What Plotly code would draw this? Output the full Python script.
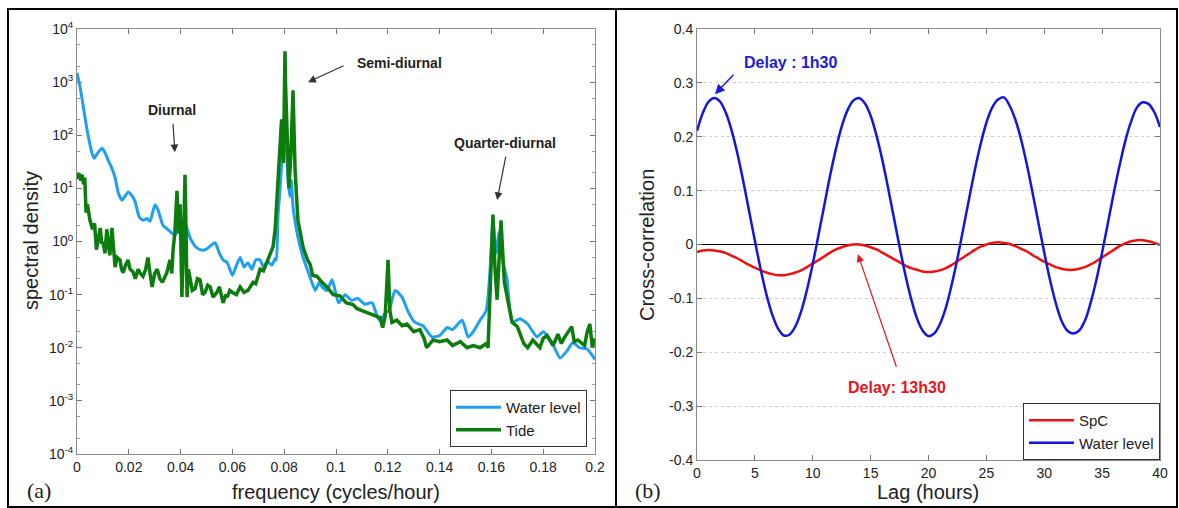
import plotly.graph_objects as go

# ---- (a) spectral density ----
wl_freq = [0.000, 0.0012, 0.0039, 0.0058, 0.0066, 0.0082, 0.0097, 0.011, 0.012, 0.013,
           0.0147, 0.016, 0.0174, 0.0197, 0.021, 0.0224, 0.024, 0.0255, 0.027, 0.0282,
           0.0301, 0.0313, 0.0332, 0.035, 0.0365, 0.038, 0.0395, 0.0412, 0.0436, 0.046,
           0.048, 0.050, 0.0533, 0.055, 0.0564, 0.058, 0.060, 0.0615, 0.063, 0.0645,
           0.066, 0.0675, 0.069, 0.0707, 0.072, 0.0735, 0.0753, 0.0765, 0.077, 0.0776,
           0.0784, 0.0795, 0.0803, 0.081, 0.0815, 0.0822, 0.0828, 0.0834, 0.0853, 0.0873,
           0.0895, 0.092, 0.0935, 0.0946, 0.0965, 0.0985, 0.101, 0.1035, 0.106, 0.1085,
           0.111, 0.114, 0.116, 0.117, 0.119, 0.1205, 0.1228, 0.1255, 0.128, 0.1305,
           0.1336, 0.137, 0.140, 0.143, 0.145, 0.1487, 0.151, 0.153, 0.1556, 0.158,
           0.1595, 0.1606, 0.1618, 0.163, 0.1645, 0.166, 0.168, 0.171, 0.174, 0.1776,
           0.180, 0.1834, 0.1865, 0.189, 0.1915, 0.194, 0.197, 0.200]
wl_psd = [1500, 800, 125, 46, 37, 48, 57, 45, 34, 27,
          16, 8, 6, 8.5, 7.5, 5.7, 2.9, 2.5, 2.7, 2.4,
          4.9, 3.9, 2.0, 1.7, 1.45, 1.35, 2.0, 2.6, 1.2, 0.78,
          0.69, 0.72, 0.95, 0.6, 0.45, 0.4, 0.23, 0.35, 0.5, 0.33,
          0.4, 0.3, 0.45, 0.45, 0.33, 0.42, 0.36, 0.48, 0.45, 3,
          10, 60, 110, 40, 14, 7, 14, 4.5, 1.2, 0.5,
          0.25, 0.12, 0.17, 0.14, 0.12, 0.19, 0.07, 0.1, 0.078, 0.085,
          0.066, 0.07, 0.037, 0.033, 0.045, 0.05, 0.12, 0.09, 0.046, 0.03,
          0.026, 0.016, 0.017, 0.024, 0.022, 0.033, 0.016, 0.02, 0.033, 0.05,
          0.3, 2.5, 0.6, 1.5, 0.4, 0.2, 0.03, 0.035, 0.028, 0.016,
          0.02, 0.0125, 0.0064, 0.0085, 0.0125, 0.01, 0.0095, 0.006]

tide_freq = [0.000, 0.0005, 0.001, 0.0015, 0.002, 0.0025, 0.003, 0.0035, 0.004, 0.005,
             0.006, 0.0068, 0.0075, 0.0082, 0.009, 0.0095, 0.010, 0.0108, 0.0115, 0.0122,
             0.0127, 0.0135, 0.014, 0.0147, 0.0155, 0.0166, 0.0172, 0.0178, 0.0187, 0.0197,
             0.0205, 0.0216, 0.0225, 0.0236, 0.0245, 0.0255, 0.0265, 0.0274, 0.0282, 0.029,
             0.030, 0.031, 0.032, 0.033, 0.034, 0.0347, 0.0359, 0.0366, 0.0371, 0.0378,
             0.0386, 0.039, 0.0394, 0.0398, 0.0405, 0.041, 0.0417, 0.042, 0.0425, 0.043,
             0.0436, 0.0445, 0.0456, 0.0465, 0.0475, 0.0485, 0.0494, 0.0505, 0.0514, 0.0525,
             0.054, 0.055, 0.0564, 0.0575, 0.058, 0.059, 0.060, 0.0615, 0.063, 0.0645,
             0.066, 0.067, 0.068, 0.069, 0.0707, 0.072, 0.073, 0.0745, 0.0757, 0.0765,
             0.077, 0.0776, 0.0784, 0.079, 0.0797, 0.0803, 0.0805, 0.0812, 0.0818, 0.0826,
             0.0834, 0.0842, 0.0853, 0.0873, 0.089, 0.090, 0.091, 0.0927, 0.0946, 0.0965,
             0.0989, 0.1015, 0.104, 0.1066, 0.108, 0.110, 0.1125, 0.115, 0.117, 0.118,
             0.119, 0.1201, 0.1208, 0.1216, 0.1235, 0.1255, 0.1274, 0.130, 0.1324, 0.134,
             0.135, 0.1375, 0.140, 0.1429, 0.145, 0.148, 0.1506, 0.153, 0.1556, 0.158,
             0.1587, 0.1606, 0.1614, 0.1622, 0.1637, 0.165, 0.1664, 0.168, 0.170, 0.171,
             0.1725, 0.174, 0.176, 0.1787, 0.180, 0.1815, 0.1838, 0.1857, 0.187, 0.188,
             0.191, 0.192, 0.1934, 0.196, 0.197, 0.198, 0.199, 0.200]
tide_psd = [20, 15, 19, 14, 18, 12, 16, 3.5, 5, 2.5,
            1.7, 2.2, 0.7, 1.2, 1.8, 0.9, 1.0, 0.6, 1.7, 0.8,
            0.55, 1.8, 0.7, 0.33, 0.5, 0.45, 0.3, 0.26, 0.35, 0.45,
            0.3, 0.27, 0.2, 0.3, 0.25, 0.22, 0.3, 0.5, 0.25, 0.14,
            0.25, 0.3, 0.2, 0.17, 0.22, 0.26, 0.45, 0.25, 0.7, 1.5,
            9, 3, 1.4, 5, 0.09, 0.5, 18, 3, 0.09, 0.3,
            0.22, 0.12, 0.13, 0.2, 0.19, 0.1, 0.11, 0.15, 0.14, 0.09,
            0.11, 0.14, 0.07, 0.1, 0.09, 0.12, 0.11, 0.1, 0.14, 0.11,
            0.12, 0.14, 0.17, 0.16, 0.3, 0.28, 0.37, 0.6, 0.8, 1.7,
            4.5, 16, 60, 200, 30, 3800, 1000, 60, 10, 45,
            700, 22, 2.5, 0.78, 0.45, 0.37, 0.23, 0.22, 0.17, 0.14,
            0.1, 0.095, 0.07, 0.065, 0.055, 0.05, 0.045, 0.04, 0.037, 0.024,
            0.04, 0.45, 0.05, 0.03, 0.033, 0.026, 0.028, 0.02, 0.022, 0.015,
            0.01, 0.014, 0.013, 0.014, 0.011, 0.013, 0.01, 0.011, 0.01, 0.012,
            0.01, 3.2, 0.3, 0.08, 2.5, 0.17, 0.07, 0.03, 0.025, 0.018,
            0.012, 0.01, 0.014, 0.01, 0.015, 0.017, 0.011, 0.018, 0.012, 0.015,
            0.025, 0.013, 0.014, 0.011, 0.02, 0.028, 0.01, 0.015]

# ---- (b) cross-correlation, every half hour from 0 to 40 h ----
lag_hours = [i * 0.5 for i in range(81)]
wl_corr = [0.211, 0.244, 0.265, 0.272, 0.265, 0.244, 0.211, 0.168, 0.117, 0.062,
           0.007, -0.046, -0.093, -0.130, -0.156, -0.169, -0.167, -0.152, -0.124, -0.084,
           -0.036, 0.018, 0.073, 0.128, 0.177, 0.219, 0.249, 0.267, 0.272, 0.262,
           0.239, 0.203, 0.158, 0.106, 0.051, -0.004, -0.056, -0.101, -0.137, -0.160,
           -0.170, -0.165, -0.147, -0.117, -0.075, -0.026, 0.029, 0.084, 0.138, 0.186,
           0.226, 0.254, 0.269, 0.273, 0.258, 0.232, 0.195, 0.148, 0.095, 0.040,
           -0.015, -0.066, -0.109, -0.142, -0.160, -0.165, -0.160, -0.142, -0.109, -0.066,
           -0.015, 0.040, 0.095, 0.146, 0.192, 0.228, 0.254, 0.264, 0.261, 0.246,
           0.218]
spc_corr = [-0.014, -0.011, -0.010, -0.011, -0.013, -0.016, -0.021, -0.026, -0.032, -0.038,
            -0.043, -0.048, -0.052, -0.055, -0.057, -0.057, -0.055, -0.052, -0.048, -0.042,
            -0.035, -0.029, -0.022, -0.015, -0.009, -0.005, -0.002, 0.000, 0.000, -0.002,
            -0.005, -0.009, -0.015, -0.021, -0.027, -0.033, -0.039, -0.044, -0.047, -0.050,
            -0.051, -0.050, -0.048, -0.044, -0.038, -0.031, -0.024, -0.017, -0.010, -0.004,
            0.000, 0.003, 0.004, 0.003, 0.001, -0.003, -0.008, -0.013, -0.020, -0.026,
            -0.032, -0.037, -0.042, -0.045, -0.047, -0.047, -0.045, -0.042, -0.037, -0.031,
            -0.024, -0.017, -0.010, -0.003, 0.002, 0.006, 0.008, 0.008, 0.006, 0.003,
            -0.001]

corr_ticks = [-0.4, -0.3, -0.2, -0.1, 0, 0.1, 0.2, 0.3, 0.4]
W, H = 1179, 508
FONT = "Arial, Liberation Sans, sans-serif"


def px(x):
    return x / W


def py(y):
    return 1 - y / H


fig = go.Figure()
fig.add_trace(go.Scatter(x=wl_freq, y=wl_psd, mode="lines", name="Water level",
                         line=dict(color="#1e9ff0", width=3, shape="spline", smoothing=0.5),
                         xaxis="x", yaxis="y", legend="legend"))
fig.add_trace(go.Scatter(x=tide_freq, y=tide_psd, mode="lines", name="Tide",
                         line=dict(color="#0c7d0c", width=3.5), xaxis="x", yaxis="y", legend="legend"))
fig.add_trace(go.Scatter(x=lag_hours, y=spc_corr, mode="lines", name="SpC",
                         line=dict(color="#ee1111", width=2.5, shape="spline"),
                         xaxis="x2", yaxis="y2", legend="legend2"))
fig.add_trace(go.Scatter(x=lag_hours, y=wl_corr, mode="lines", name="Water level",
                         line=dict(color="#1515dd", width=2.5, shape="spline"),
                         xaxis="x2", yaxis="y2", legend="legend2"))

axis_common = dict(showline=True, linecolor="#8a8a8a", linewidth=1, mirror="ticks",
                   ticks="inside", ticklen=5, tickcolor="#777", automargin=False,
                   tickfont=dict(family=FONT, size=14, color="#222"), zeroline=False)

fig.update_layout(
    template="none",
    width=W, height=H, margin=dict(l=0, r=0, t=0, b=0, pad=0),
    paper_bgcolor="white", plot_bgcolor="white", showlegend=True,
    font=dict(family=FONT, color="#222"),
    xaxis=dict(domain=[px(77), px(595)], range=[0, 0.2], dtick=0.02, anchor="y",
               showgrid=False, **axis_common),
    yaxis=dict(domain=[py(454), py(29)], type="log", range=[-4, 4], anchor="x",
               tickvals=[10.0 ** k for k in range(-4, 5)],
               ticktext=[f"10<sup>{k}</sup>" for k in range(-4, 5)],
               minor=dict(ticks="inside", ticklen=3, tickcolor="#999", showgrid=False),
               showgrid=False, **axis_common),
    xaxis2=dict(domain=[px(697), px(1160)], range=[0, 40], dtick=5, anchor="y2",
                showgrid=False, **axis_common),
    yaxis2=dict(domain=[py(460), py(29)], range=[-0.4, 0.4], anchor="x2",
                tickvals=corr_ticks, ticktext=[f"{v:g}" for v in corr_ticks],
                showgrid=True, gridcolor="#cfcfcf", griddash="dot", gridwidth=1,
                **{**axis_common, "zeroline": True}, zerolinecolor="black", zerolinewidth=1),
    legend=dict(x=px(587), xanchor="right", y=py(447), yanchor="bottom",
                bgcolor="white", bordercolor="#333", borderwidth=1, itemwidth=45,
                font=dict(family=FONT, size=15, color="#222")),
    legend2=dict(x=px(1160), xanchor="right", y=py(460), yanchor="bottom",
                 bgcolor="white", bordercolor="#333", borderwidth=1, itemwidth=45,
                 font=dict(family=FONT, size=15, color="#222")),
)

annotations = []


def label(text, x, y, size, color="#222", bold=False, angle=0, family=FONT):
    annotations.append(dict(text=f"<b>{text}</b>" if bold else text, x=px(x), y=py(y),
                            xref="paper", yref="paper", xanchor="center", yanchor="middle",
                            showarrow=False, textangle=angle,
                            font=dict(family=family, size=size, color=color)))


def arrow(xref, yref, x, y, ax, ay, color, width=1.2):
    annotations.append(dict(text="", xref=xref, yref=yref, x=x, y=y, ax=ax, ay=ay,
                            showarrow=True, arrowhead=2, arrowsize=1.3, arrowwidth=width,
                            arrowcolor=color))


# axis titles and panel tags
label("spectral density", 31, 241, 20, angle=-90)
label("frequency (cycles/hour)", 336, 492, 20)
label("Cross-correlation", 647, 245, 20, angle=-90)
label("Lag (hours)", 928, 492, 20)
label("(a)", 39, 490, 22, family="Liberation Serif, Times New Roman, serif")
label("(b)", 648, 490, 22, family="Liberation Serif, Times New Roman, serif")

# tidal constituents
label("Diurnal", 172, 110, 14, bold=True)
label("Semi-diurnal", 399, 63, 14, bold=True)
label("Quarter-diurnal", 505, 143, 14, bold=True)
arrow("x", "y", 0.0378, 1.68, -2, -30, "#333")
arrow("x", "y", 0.0892, 3.0, 37, -17, "#333")
arrow("x", "y", 0.1622, 0.78, 9, -45, "#333")

# delays
label("Delay : 1h30", 790, 62, 16, color="#1c1cd6", bold=True)
label("Delay: 13h30", 897, 387, 16, color="#e8141c", bold=True)
arrow("x2", "y2", 1.55, 0.279, 20, -21, "#1c1cd6", 1.5)
arrow("x2", "y2", 13.9, -0.018, 39, 114, "#e8141c", 1.2)

fig.update_layout(annotations=annotations)

# outer frame and divider
fig.add_shape(type="rect", xref="paper", yref="paper", x0=px(8), x1=px(1177), y0=py(507), y1=py(9),
              line=dict(color="black", width=2))
fig.add_shape(type="line", xref="paper", yref="paper", x0=px(616), x1=px(616), y0=py(507), y1=py(9),
              line=dict(color="black", width=2))

# the page's default body margin would push the figure 8px down and right
fig.write_html("out.html", config={"displayModeBar": False},
               post_script="document.body.style.margin='0';document.body.style.overflow='hidden';")
